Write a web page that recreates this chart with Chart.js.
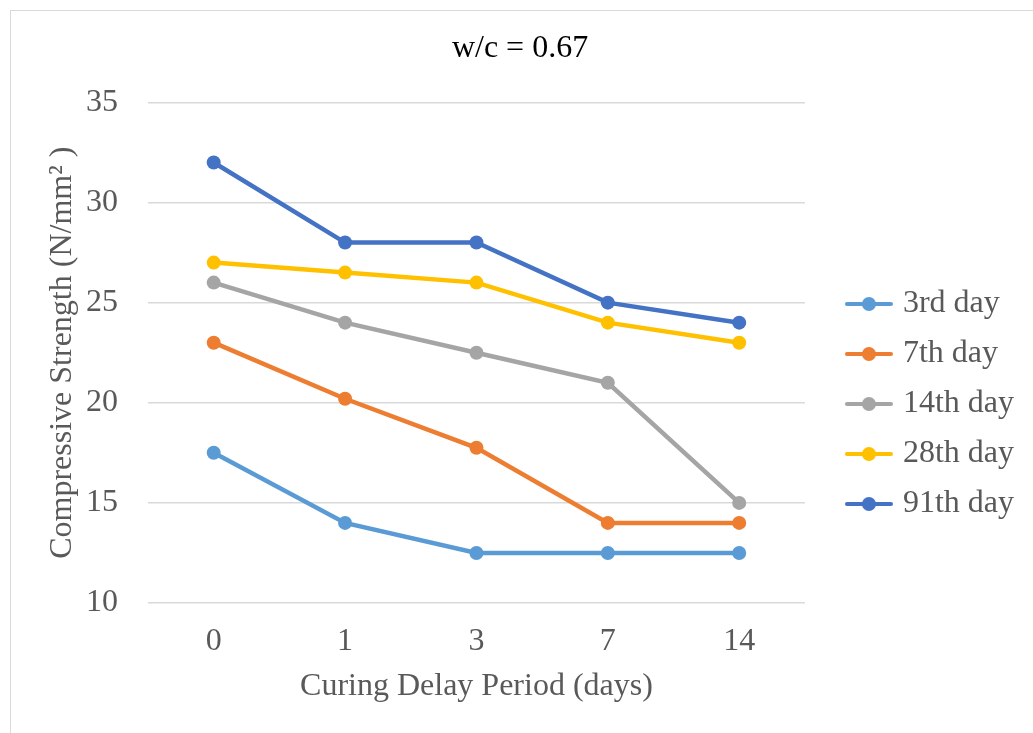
<!DOCTYPE html>
<html lang="en">
<head>
  <meta charset="UTF-8" />
  <title>w/c = 0.67</title>
  <script src="https://cdn.jsdelivr.net/npm/chart.js"></script>
  <style>
    html, body {
      margin: 0;
      height: 100%;
      background: #fff;
      overflow: hidden;
    }

    .moldura {
      position: absolute;
      left: 10px;
      top: 10px;
      width: 1040px;
      height: 776px;
      border: 1px solid #d9d9d9;
    }
  </style>
</head>
<body>
  <div class="moldura"><canvas id="grafico"></canvas></div>

  <script>
    // curing delay (days) on the x axis
    const periodos = ['0', '1', '3', '7', '14'];

    // compressive strength, N/mm2
    const dia3 = [17.5, 14, 12.5, 12.5, 12.5];
    const dia7 = [23, 20.2, 17.75, 14, 14];
    const dia14 = [26, 24, 22.5, 21, 15];
    const dia28 = [27, 26.5, 26, 24, 23];
    const dia91 = [32, 28, 28, 25, 24];

    const nomesSeries = ['3rd day', '7th day', '14th day', '28th day', '91th day'];
    const cores = ['#5b9bd5', '#ed7d31', '#a5a5a5', '#ffc000', '#4472c4'];

    const fonte = "'Liberation Serif', 'Times New Roman', serif";
    const cinzaTexto = '#595959';

    // legend marker: short line with a dot, like the office style
    function marcador(cor) {
      const c = document.createElement('canvas');
      c.width = 76;
      c.height = 16;
      const g = c.getContext('2d');
      g.strokeStyle = cor;
      g.lineWidth = 4;
      g.lineCap = 'round';
      g.beginPath();
      g.moveTo(30, 8);
      g.lineTo(74, 8);
      g.stroke();
      g.fillStyle = cor;
      g.beginPath();
      g.arc(52, 8, 7, 0, Math.PI * 2);
      g.fill();
      return c;
    }
    const marcadores = cores.map(marcador);

    function serie(i, valores) {
      return {
        label: nomesSeries[i],
        data: valores,
        borderColor: cores[i],
        backgroundColor: cores[i],
        borderWidth: 4.5,
        pointRadius: 7,
        pointHoverRadius: 7,
        pointBorderWidth: 0,
        tension: 0
      };
    }

    new Chart(document.getElementById('grafico'), {
      type: 'line',
      data: {
        labels: periodos,
        datasets: [
          serie(0, dia3),
          serie(1, dia7),
          serie(2, dia14),
          serie(3, dia28),
          serie(4, dia91)
        ]
      },
      options: {
        responsive: true,
        maintainAspectRatio: false,
        animation: false,
        layout: {
          padding: { top: 10, left: 5, right: 27, bottom: 0 }
        },
        plugins: {
          title: {
            display: true,
            text: 'w/c = 0.67',
            color: '#000',
            font: { family: fonte, size: 32, weight: 'normal' },
            padding: { top: 8, bottom: 35 }
          },
          legend: {
            position: 'right',
            labels: {
              usePointStyle: true,
              pointStyleWidth: 64,
              padding: 18,
              color: cinzaTexto,
              font: { family: fonte, size: 32 },
              generateLabels(chart) {
                const itens = Chart.defaults.plugins.legend.labels.generateLabels(chart);
                itens.forEach(it => { it.pointStyle = marcadores[it.datasetIndex]; });
                return itens;
              }
            }
          },
          tooltip: { enabled: false }
        },
        scales: {
          x: {
            offset: true,
            grid: { display: false, drawTicks: false },
            border: { display: false },
            afterFit(escala) { escala.height = 184; },
            ticks: {
              color: cinzaTexto,
              padding: 19,
              font: { family: fonte, size: 32 }
            },
            title: {
              display: true,
              text: 'Curing Delay Period (days)',
              color: cinzaTexto,
              font: { family: fonte, size: 32 },
              padding: { top: 12, bottom: 81 }
            }
          },
          y: {
            min: 10,
            max: 35,
            grid: { color: '#d9d9d9', lineWidth: 1.5, drawTicks: false },
            border: { display: false },
            afterFit(escala) { escala.width = 132; },
            ticks: {
              stepSize: 5,
              color: cinzaTexto,
              padding: 30,
              font: { family: fonte, size: 32 }
            },
            title: {
              display: true,
              text: 'Compressive Strength (N/mm\u00b2 )',
              color: cinzaTexto,
              font: { family: fonte, size: 32 },
              padding: { top: 27, bottom: 8 }
            }
          }
        }
      }
    });
  </script>
</body>
</html>
